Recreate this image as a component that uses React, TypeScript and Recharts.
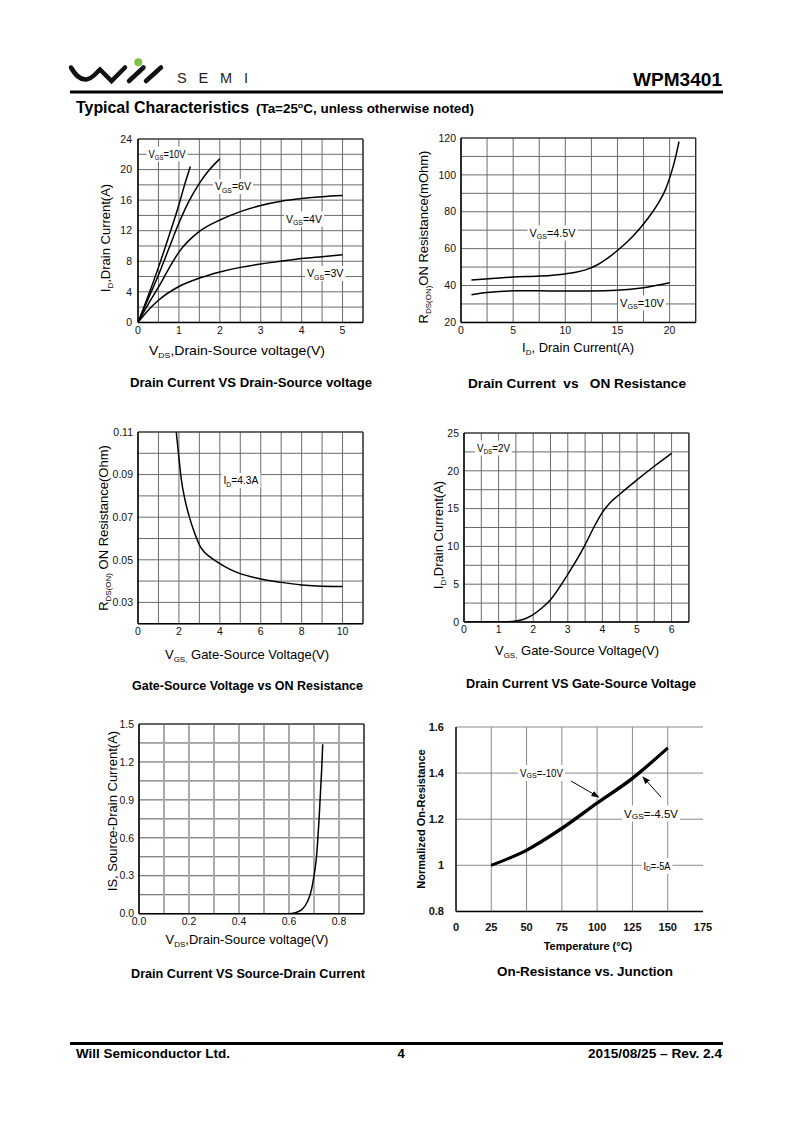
import React from 'react';
import { LineChart, Line, XAxis, YAxis, CartesianGrid, ReferenceLine } from 'recharts';

const FONT = "'Liberation Sans', Arial, Helvetica, sans-serif";

// ---------- Chart 1: ID vs VDS ----------
const c1XTicks = [0, 0.5, 1, 1.5, 2, 2.5, 3, 3.5, 4, 4.5, 5, 5.5];
const c1YTicks = [0, 2, 4, 6, 8, 10, 12, 14, 16, 18, 20, 22, 24];
const c1XLabels = [0, 1, 2, 3, 4, 5];
const c1YLabels = [0, 4, 8, 12, 16, 20, 24];
const c1Vgs10X = [0, 0.25, 0.5, 0.75, 1.0, 1.15, 1.28];
const c1Vgs10Y = [0, 3.5, 7.2, 11.2, 15.4, 18.2, 20.4];
const c1Vgs6X = [0, 0.25, 0.5, 0.75, 1.0, 1.25, 1.5, 1.75, 2.0];
const c1Vgs6Y = [0, 3.1, 6.2, 9.6, 13.0, 15.9, 18.2, 20.0, 21.4];
const c1Vgs4X = [0, 0.25, 0.5, 0.75, 1, 1.5, 2, 2.5, 3, 3.5, 4, 4.5, 5];
const c1Vgs4Y = [0, 2.4, 4.6, 7.0, 9.2, 11.9, 13.4, 14.5, 15.3, 15.85, 16.2, 16.45, 16.6];
const c1Vgs3X = [0, 0.25, 0.5, 1, 1.5, 2, 2.5, 3, 3.5, 4, 4.5, 5];
const c1Vgs3Y = [0, 1.6, 2.9, 4.7, 5.8, 6.6, 7.2, 7.65, 8.0, 8.35, 8.6, 8.85];

// ---------- Chart 2: RDS(on) vs ID ----------
const c2XTicks = [0, 2.5, 5, 7.5, 10, 12.5, 15, 17.5, 20, 22.5];
const c2YTicks = [20, 30, 40, 50, 60, 70, 80, 90, 100, 110, 120];
const c2XLabels = [0, 5, 10, 15, 20];
const c2YLabels = [20, 40, 60, 80, 100, 120];
const c2Vgs45X = [1, 3, 5, 7.5, 10, 11, 12, 13, 14, 15, 16, 17, 18, 19, 19.6, 20.1, 20.5, 20.9];
const c2Vgs45Y = [43, 43.8, 44.6, 45.1, 46.3, 47.2, 48.6, 51, 54.6, 59, 64, 70, 77, 85.5, 92, 100, 108, 118];
const c2Vgs10X = [1, 2.5, 5, 7.5, 10, 12.5, 15, 17.5, 20];
const c2Vgs10Y = [35, 36.2, 37.1, 37.1, 37, 37, 37.4, 38.8, 41.5];

// ---------- Chart 3: RDS(on) vs VGS ----------
const c3XTicks = [0, 1, 2, 3, 4, 5, 6, 7, 8, 9, 10, 11];
const c3YTicks = [0.02, 0.03, 0.04, 0.05, 0.06, 0.07, 0.08, 0.09, 0.1, 0.11];
const c3XLabels = [0, 2, 4, 6, 8, 10];
const c3YLabels = [0.03, 0.05, 0.07, 0.09, 0.11];
const c3X = [1.87, 2.0, 2.1, 2.3, 2.5, 2.75, 3.0, 3.25, 3.5, 4, 4.5, 5, 6, 7, 8, 9, 10];
const c3Y = [0.11, 0.098, 0.089, 0.078, 0.0705, 0.063, 0.057, 0.0535, 0.0515, 0.0482, 0.0455, 0.0435, 0.041, 0.0394, 0.0382, 0.0376, 0.0375];

// ---------- Chart 4: ID vs VGS ----------
const c4XTicks = [0, 0.5, 1, 1.5, 2, 2.5, 3, 3.5, 4, 4.5, 5, 5.5, 6, 6.5];
const c4YTicks = [0, 2.5, 5, 7.5, 10, 12.5, 15, 17.5, 20, 22.5, 25];
const c4XLabels = [0, 1, 2, 3, 4, 5, 6];
const c4YLabels = [0, 5, 10, 15, 20, 25];
const c4X = [0, 1.0, 1.25, 1.5, 1.75, 2.0, 2.25, 2.5, 3.0, 3.5, 3.75, 4.0, 4.25, 4.5, 5.0, 5.5, 6.0];
const c4Y = [0, 0, 0.02, 0.13, 0.4, 0.97, 1.85, 2.95, 6.3, 10.2, 12.5, 14.5, 15.9, 16.9, 18.8, 20.6, 22.3];

// ---------- Chart 5: IS vs VSD ----------
const c5XTicks = [0, 0.1, 0.2, 0.3, 0.4, 0.5, 0.6, 0.7, 0.8, 0.9];
const c5YTicks = [0, 0.15, 0.3, 0.45, 0.6, 0.75, 0.9, 1.05, 1.2, 1.35, 1.5];
const c5XLabels = [0, 0.2, 0.4, 0.6, 0.8];
const c5YLabels = [0, 0.3, 0.6, 0.9, 1.2, 1.5];
const c5X = [0, 0.6, 0.62, 0.65, 0.675, 0.69, 0.7, 0.71, 0.72, 0.73, 0.735];
const c5Y = [0, 0, 0.005, 0.03, 0.1, 0.19, 0.3, 0.45, 0.74, 1.11, 1.34];

// ---------- Chart 6: Normalized RDS(on) vs Temperature ----------
const c6XTicks = [0, 25, 50, 75, 100, 125, 150, 175];
const c6YTicks = [0.8, 1.0, 1.2, 1.4, 1.6];
const c6GridX = [25, 50, 75, 100, 125, 150];
const c6X = [25, 50, 75, 100, 125, 150];
const c6Vgs10Y = [1.0, 1.064, 1.158, 1.268, 1.375, 1.508];
const c6Vgs45Y = [1.0, 1.067, 1.162, 1.272, 1.38, 1.51];

const pts = (xs: number[], ys: number[]) => xs.map((x, i) => ({ x, y: ys[i] }));
const show = (labels: number[], fmt: (v: number) => string) => (v: number) =>
  labels.some((l) => Math.abs(l - v) < 1e-9) ? fmt(v) : '';

type PlotProps = {
  box: [number, number, number, number];
  xDomain: [number, number];
  yDomain: [number, number];
  xTicks: number[];
  yTicks: number[];
  xFmt: (v: number) => string;
  yFmt: (v: number) => string;
  series: { data: { x: number; y: number }[]; w: number }[];
  hGridStroke?: string;
  vGridStroke?: string;
  vGridWidth?: number;
  vRefGrid?: number[];
  border?: boolean;
  tickSize?: number;
  tickBold?: boolean;
  xGap?: [number, number];
  yGap?: [number, number];
  mr?: number;
};

function Plot(p: PlotProps) {
  const [x0, y0, x1, y1] = p.box;
  const YW = 50, XH = 30, MT = 6;
  const MR = p.mr || 6;
  const tick = { fontSize: p.tickSize || 10.5, fill: '#111', fontFamily: FONT, fontWeight: p.tickBold ? 700 : 400 };
  const xg = p.xGap || [2, 2];
  const yg = p.yGap || [3, 2];
  return (
    <div style={{ position: 'absolute', left: x0 - YW, top: y0 - MT }}>
      <LineChart width={x1 - x0 + YW + MR} height={y1 - y0 + MT + XH} margin={{ top: MT, right: MR, left: 0, bottom: 0 }}>
        {p.hGridStroke && (
          <CartesianGrid vertical={false} stroke={p.hGridStroke} strokeWidth={1} strokeDasharray="0" />
        )}
        {p.vGridStroke && (
          <CartesianGrid horizontal={false} stroke={p.vGridStroke} strokeWidth={p.vGridWidth || 1} strokeDasharray="0" />
        )}
        {(p.vRefGrid || []).map((v) => (
          <ReferenceLine key={'g' + v} x={v} stroke="#8a8a8a" strokeWidth={1} />
        ))}
        <XAxis
          type="number"
          dataKey="x"
          domain={p.xDomain}
          ticks={p.xTicks}
          interval={0}
          tickFormatter={p.xFmt}
          tickLine={false}
          tickSize={xg[0]}
          tickMargin={xg[1]}
          axisLine={{ stroke: '#000', strokeWidth: 1.5 }}
          tick={tick}
          height={XH}
          allowDataOverflow
        />
        <YAxis
          type="number"
          dataKey="y"
          domain={p.yDomain}
          ticks={p.yTicks}
          interval={0}
          tickFormatter={p.yFmt}
          tickLine={false}
          tickSize={yg[0]}
          tickMargin={yg[1]}
          axisLine={{ stroke: '#000', strokeWidth: 1.5 }}
          tick={tick}
          width={YW}
          allowDataOverflow
        />
        {p.series.map((s, i) => (
          <Line
            key={i}
            data={s.data}
            dataKey="y"
            type="monotone"
            stroke="#000"
            strokeWidth={s.w}
            dot={false}
            activeDot={false}
            isAnimationActive={false}
          />
        ))}
        {p.border && <ReferenceLine y={p.yDomain[1]} stroke="#222" strokeWidth={1.2} />}
        {p.border && <ReferenceLine x={p.xDomain[1]} stroke="#222" strokeWidth={1.2} />}
      </LineChart>
    </div>
  );
}

type Part = [string, boolean?];
function ST(props: {
  x: number; y: number; parts: Part[]; size?: number; sub?: number; shift?: number;
  bold?: boolean; anchor?: 'start' | 'middle' | 'end'; rotate?: boolean; len?: number; fill?: string;
}) {
  const { x, y, parts, size = 12, sub = 8, shift = 3, bold, anchor = 'start', rotate, len, fill = '#000' } = props;
  let prevSub = false;
  return (
    <text
      x={x}
      y={y}
      fontSize={size}
      fontWeight={bold ? 700 : 400}
      fontFamily={FONT}
      textAnchor={anchor}
      fill={fill}
      style={{ whiteSpace: 'pre' }}
      transform={rotate ? `rotate(-90 ${x} ${y})` : undefined}
      textLength={len}
      lengthAdjust={len ? 'spacingAndGlyphs' : undefined}
    >
      {parts.map(([t, isSub], i) => {
        let dy = 0;
        if (isSub && !prevSub) dy = shift;
        if (!isSub && prevSub) dy = -shift;
        prevSub = !!isSub;
        return (
          <tspan key={i} dy={dy || undefined} fontSize={isSub ? sub : size}>
            {t}
          </tspan>
        );
      })}
    </text>
  );
}

function Ann(props: { x: number; y: number; w: number; parts: Part[]; size?: number; sub?: number; shift?: number; len?: number }) {
  const { x, y, w, size = 10 } = props;
  return (
    <g>
      <rect x={x - 2} y={y - size - 1} width={w + 4} height={size + 5} fill="#fff" />
      <ST {...props} size={size} />
    </g>
  );
}

export default function App() {
  return (
    <div style={{ position: 'relative', width: 800, height: 1131, margin: -8, background: '#fff', fontFamily: FONT, overflow: 'hidden' }}>
      <Plot
        box={[137.7, 139.3, 362.7, 322.7]}
        xDomain={[0, 5.5]}
        yDomain={[0, 24]}
        xTicks={c1XTicks}
        yTicks={c1YTicks}
        xFmt={show(c1XLabels, String)}
        yFmt={show(c1YLabels, String)}
        hGridStroke="#6a6a6a"
        vGridStroke="#6a6a6a"
        border
        yGap={[4, 2]}
        series={[
          { data: pts(c1Vgs10X, c1Vgs10Y), w: 1.5 },
          { data: pts(c1Vgs6X, c1Vgs6Y), w: 1.5 },
          { data: pts(c1Vgs4X, c1Vgs4Y), w: 1.5 },
          { data: pts(c1Vgs3X, c1Vgs3Y), w: 1.5 },
        ]}
      />
      <Plot
        box={[460.7, 138.3, 695.4, 322.7]}
        xDomain={[0, 22.5]}
        yDomain={[20, 120]}
        xTicks={c2XTicks}
        yTicks={c2YTicks}
        xFmt={show(c2XLabels, String)}
        yFmt={show(c2YLabels, String)}
        hGridStroke="#6a6a6a"
        vGridStroke="#6a6a6a"
        border
        series={[
          { data: pts(c2Vgs45X, c2Vgs45Y), w: 1.5 },
          { data: pts(c2Vgs10X, c2Vgs10Y), w: 1.5 },
        ]}
      />
      <Plot
        box={[138.3, 432.3, 363.3, 624]}
        xDomain={[0, 11]}
        yDomain={[0.02, 0.11]}
        xTicks={c3XTicks}
        yTicks={c3YTicks}
        xFmt={show(c3XLabels, String)}
        yFmt={show(c3YLabels, (v) => v.toFixed(2))}
        hGridStroke="#6a6a6a"
        vGridStroke="#6a6a6a"
        border
        series={[{ data: pts(c3X, c3Y), w: 1.5 }]}
      />
      <Plot
        box={[464.3, 433.3, 689.2, 622.3]}
        xDomain={[0, 6.5]}
        yDomain={[0, 25]}
        xTicks={c4XTicks}
        yTicks={c4YTicks}
        xFmt={show(c4XLabels, String)}
        yFmt={show(c4YLabels, String)}
        hGridStroke="#6a6a6a"
        vGridStroke="#6a6a6a"
        border
        series={[{ data: pts(c4X, c4Y), w: 1.5 }]}
      />
      <Plot
        box={[139.3, 724.3, 364.3, 914]}
        xDomain={[0, 0.9]}
        yDomain={[0, 1.5]}
        xTicks={c5XTicks}
        yTicks={c5YTicks}
        xFmt={show(c5XLabels, (v) => v.toFixed(1))}
        yFmt={show(c5YLabels, (v) => v.toFixed(1))}
        hGridStroke="#555"
        vGridStroke="#aaa"
        vGridWidth={2}
        border
        series={[{ data: pts(c5X, c5Y), w: 1.5 }]}
      />
      <Plot
        box={[456.4, 727.3, 703.4, 911.7]}
        xDomain={[0, 175]}
        yDomain={[0.8, 1.6]}
        xTicks={c6XTicks}
        yTicks={c6YTicks}
        xFmt={String}
        yFmt={(v) => String(Math.round(v * 10) / 10)}
        hGridStroke="#8a8a8a"
        vRefGrid={c6GridX}
        tickSize={11}
        tickBold
        xGap={[8, 4]}
        yGap={[8, 4]}
        mr={24}
        series={[
          { data: pts(c6X, c6Vgs10Y), w: 2.6 },
          { data: pts(c6X, c6Vgs45Y), w: 2.6 },
        ]}
      />

      <svg width={800} height={1131} style={{ position: 'absolute', left: 0, top: 0, pointerEvents: 'none' }}>
        <defs>
          <marker id="ah" markerWidth="8" markerHeight="8" refX="7" refY="4" orient="auto" markerUnits="userSpaceOnUse">
            <path d="M0,1 L8,4 L0,7 z" fill="#000" />
          </marker>
        </defs>

        {/* Header */}
        <path d="M71,67.5 C76,76 80,80 86,79.5 C92,79 96,73 100,69.5 L111.5,81 L125,67.5" fill="none" stroke="#111" strokeWidth={4.5} strokeLinejoin="miter" strokeLinecap="round" />
        <path d="M129,81 L143.5,67.5 M146,81 L161,67.5" fill="none" stroke="#111" strokeWidth={4.5} strokeLinecap="round" />
        <circle cx={138.3} cy={62.3} r={4} fill="#7dc242" />
        <text x={177} y={83} fontSize={14.5} fontFamily={FONT} fill="#222" textLength={71} lengthAdjust="spacing">SEMI</text>
        <ST x={633} y={86} parts={[['WPM3401']]} size={18.5} bold len={89} />
        <rect x={70} y={90.5} width={653} height={3} fill="#000" />
        <ST x={76} y={113} parts={[['Typical Characteristics']]} size={16} bold len={173} />
        <text x={256} y={113} fontSize={12} fontWeight={700} fontFamily={FONT} textLength={218} lengthAdjust="spacingAndGlyphs">
          <tspan>(Ta=25</tspan>
          <tspan dy={-5} fontSize={8}>o</tspan>
          <tspan dy={5}>C, unless otherwise noted)</tspan>
        </text>

        {/* Chart 1 texts */}
        <Ann x={148.5} y={157.5} w={37} len={37} parts={[['V'], ['GS', true], ['=10V']]} sub={6.5} shift={2.5} />
        <Ann x={215} y={190} w={36} len={36} parts={[['V'], ['GS', true], ['=6V']]} sub={6.5} shift={2.5} />
        <Ann x={286} y={222.5} w={36} len={36} parts={[['V'], ['GS', true], ['=4V']]} sub={6.5} shift={2.5} />
        <Ann x={307} y={277} w={36.5} len={36.5} parts={[['V'], ['GS', true], ['=3V']]} sub={6.5} shift={2.5} />
        <ST x={149} y={355} parts={[['V'], ['DS', true], [',Drain-Source voltage(V)']]} size={13} len={176} />
        <ST x={110} y={238} rotate anchor="middle" parts={[['I'], ['D', true], [',Drain Current(A)']]} size={13} />
        <ST x={130} y={387} parts={[['Drain Current VS Drain-Source voltage']]} size={12.5} bold len={242} />

        {/* Chart 2 texts */}
        <Ann x={529.5} y={236.5} w={46} len={46} parts={[['V'], ['GS', true], ['=4.5V']]} sub={6.5} shift={2.5} />
        <Ann x={620} y={306.5} w={44} len={44} parts={[['V'], ['GS', true], ['=10V']]} sub={6.5} shift={2.5} />
        <ST x={578} y={352} anchor="middle" parts={[['I'], ['D', true], [', Drain Current(A)']]} size={13} />
        <ST x={428} y={237} rotate anchor="middle" parts={[['R'], ['DS(ON)', true], ['ON Resistance(mOhm)']]} size={13} />
        <ST x={468} y={388} parts={[['Drain Current  vs   ON Resistance']]} size={12.5} bold len={218} />

        {/* Chart 3 texts */}
        <Ann x={223.5} y={484} w={35} len={35} parts={[['I'], ['D', true], ['=4.3A']]} sub={6.5} shift={2.5} />
        <ST x={247} y={659} anchor="middle" parts={[['V'], ['GS,', true], [' Gate-Source Voltage(V)']]} size={13} />
        <ST x={108} y={528} rotate anchor="middle" parts={[['R'], ['DS(ON)', true], [' ON Resistance(Ohm)']]} size={13} />
        <ST x={132} y={690} parts={[['Gate-Source Voltage vs ON Resistance']]} size={12.5} bold len={231} />

        {/* Chart 4 texts */}
        <Ann x={477} y={451.5} w={33} len={33} parts={[['V'], ['DS', true], ['=2V']]} sub={6.5} shift={2.5} />
        <ST x={577} y={655} anchor="middle" parts={[['V'], ['GS,', true], [' Gate-Source Voltage(V)']]} size={13} />
        <ST x={443} y={535} rotate anchor="middle" parts={[['I'], ['D', true], [',Drain Current(A)']]} size={13} />
        <ST x={466} y={688} parts={[['Drain Current VS Gate-Source Voltage']]} size={12.5} bold len={230} />

        {/* Chart 5 texts */}
        <ST x={247} y={944} anchor="middle" parts={[['V'], ['DS', true], [',Drain-Source voltage(V)']]} size={13} />
        <ST x={117} y={811} rotate anchor="middle" parts={[['IS, Source-Drain Current(A)']]} size={13} />
        <ST x={131} y={978} parts={[['Drain Current VS Source-Drain Current']]} size={12.5} bold len={234} />

        {/* Chart 6 texts */}
        <Ann x={520} y={777} w={43} len={43} size={11} parts={[['V'], ['GS', true], ['=-10V']]} sub={8} shift={1} />
        <Ann x={624} y={817.5} w={54} len={54} size={11} parts={[['V'], ['GS', true], ['=-4.5V']]} sub={8} shift={1} />
        <Ann x={643.5} y={870} w={27} len={27} size={11} parts={[['I'], ['D', true], ['=-5A']]} sub={8} shift={1} />
        <line x1={571} y1={781} x2={598.5} y2={797} stroke="#000" strokeWidth={1} markerEnd="url(#ah)" />
        <line x1={661} y1={797} x2={643} y2={777} stroke="#000" strokeWidth={1} markerEnd="url(#ah)" />
        <ST x={588} y={950} anchor="middle" parts={[['Temperature (°C)']]} size={11} bold />
        <ST x={425} y={819} rotate anchor="middle" parts={[['Normalized On-Resistance']]} size={11} bold />
        <ST x={497} y={976} parts={[['On-Resistance vs. Junction']]} size={12.5} bold len={176} />

        {/* Footer */}
        <rect x={70} y={1042} width={653} height={3} fill="#000" />
        <ST x={76} y={1058} parts={[['Will Semiconductor Ltd.']]} size={13} bold len={154} />
        <ST x={401} y={1058} anchor="middle" parts={[['4']]} size={13} bold />
        <ST x={588} y={1058} parts={[['2015/08/25 – Rev. 2.4']]} size={13} bold len={134} />
      </svg>
    </div>
  );
}
